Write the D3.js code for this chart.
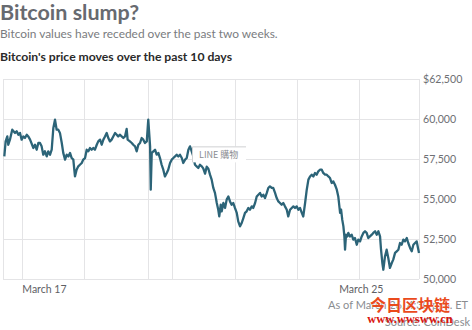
<!DOCTYPE html>
<html>
<head>
<meta charset="utf-8">
<script src="https://cdn.jsdelivr.net/npm/d3@7"></script>
<style>
  html, body { margin: 0; padding: 0; background: #fff; }
  svg { display: block; }
</style>
</head>
<body>
<svg id="chart" width="472" height="330"></svg>
<script>
// ---- DATA ----
const title = "Bitcoin slump?";
const subtitle = "Bitcoin values have receded over the past two weeks.";
const chartTitle = "Bitcoin's price moves over the past 10 days";
const startTime = new Date(2021, 2, 16, 12, 0);   // March 16, noon ET
const endTime = new Date(2021, 2, 27, 0, 0);
// hours since startTime
const hours = [
  0.8,1.6,2.6,3.2,4.2,5.6,7.3,8.3,9.3,10.3,11.3,12.3,13.3,14.4,15.3,16.4,18.4,19.4,20.4,21.4,
  22.4,23.4,24.4,25.4,26.5,27.4,28.5,29.5,30.5,31.5,32.5,33.5,34.5,35.6,36.5,37.6,38.6,39.6,40.6,41.6,
  42.6,43.6,44.6,45.6,46.6,47.7,48.6,49.7,50.7,51.7,52.7,53.7,54.7,55.7,56.8,57.7,58.8,59.8,60.8,61.8,
  62.8,63.8,64.8,65.8,66.8,67.9,68.9,69.8,70.9,71.9,72.9,73.9,74.9,75.5,76.9,78.0,78.9,80.0,81.0,82.0,
  83.0,84.0,85.0,86.0,87.1,88.0,89.1,89.5,90.1,91.1,92.1,93.1,94.1,95.1,96.1,97.1,98.1,99.2,100.1,101.2,
  102.2,103.2,104.2,105.2,106.2,107.2,108.3,109.2,110.3,111.3,112.3,113.3,114.3,115.3,116.3,117.3,118.3,119.3,120.4,121.3,
  122.4,123.4,124.4,125.4,126.4,127.4,128.4,129.5,130.4,131.0,131.9,132.5,133.5,134.5,135.5,136.5,137.5,138.5,139.5,140.5,
  141.6,142.5,143.6,144.6,145.6,146.6,147.6,148.6,149.6,150.7,151.6,152.7,153.7,154.7,155.7,156.7,157.7,158.7,159.8,160.7,
  161.7,162.8,163.7,164.8,165.8,166.8,167.8,168.8,169.8,170.8,171.9,172.8,173.9,174.9,175.9,176.9,177.9,178.9,179.9,181.0,
  181.9,183.0,184.0,185.0,186.0,187.0,188.0,189.0,190.0,191.0,192.0,193.1,194.0,195.1,196.1,197.1,198.1,199.1,200.1,201.1,
  202.2,203.1,204.2,204.8,205.5,206.2,206.8,207.2,207.8,208.6,209.2,210.2,211.2,212.2,213.2,214.3,215.2,216.3,217.3,218.3,
  219.3,220.3,221.3,222.3,223.4,224.3,225.4,226.4,227.4,228.4,229.0,229.8,230.4,231.4,232.4,233.4,234.4,235.5,236.4,237.5,
  238.5,239.5,240.5,241.5,242.5,243.5,244.6,245.5,246.6,247.6,248.6,249.6,250.6,251.6,252.0
];
// price in USD
const prices = [
  57660,58600,58910,58390,58710,59330,59130,59230,59020,59130,58710,58910,58810,59020,58910,58710,58190,58390,58080,58500,
  58500,58290,57770,57980,57660,57980,57770,58080,59440,59960,59330,59330,59130,58500,57880,57460,57770,57660,57880,57560,
  57460,56410,56830,57040,57140,57250,57460,57560,58080,57980,58190,58080,58190,58080,58390,58600,58710,58390,58710,58910,
  59130,58810,58600,58710,58910,59130,59020,58910,59020,58910,58810,58910,59380,58710,58600,58500,58390,58290,57980,58390,
  58500,58810,58710,58500,58600,59960,58290,55580,57880,57980,58080,57770,57880,57560,57140,56830,56410,56630,56830,57250,
  57460,57560,57660,57770,57660,57770,57560,57250,57460,57560,58080,58290,57980,57660,57140,57040,56940,57140,57040,56910,
  56580,57020,56890,56520,56210,55690,55380,54750,54330,53910,54640,54230,54750,54440,54960,55160,54850,54640,54750,54440,
  54130,53600,53290,53500,53810,54130,54230,54440,54330,54540,54440,54750,55160,55270,55380,55160,55270,55060,55380,55690,
  55790,55690,55690,55380,55060,54850,54750,54640,54750,54540,54330,53910,54330,54440,54540,54440,54540,54330,54440,54130,
  53910,54750,55580,56210,56410,56520,56410,56630,56520,56730,56830,56830,56630,56520,56520,56410,56310,56000,56100,55890,
  55580,55160,54130,54330,53710,53290,52660,51830,52770,52660,52880,52660,52770,52460,52560,52140,52460,52350,52660,52880,
  52980,52880,52560,52660,52770,52880,52980,52770,52980,52660,51830,51000,50580,51410,51830,51310,50690,51000,51210,51630,
  51730,51830,52250,52140,52460,52350,52560,52250,51940,51730,52140,52250,52350,51830,51630
];
const yTicks = [50000, 52500, 55000, 57500, 60000, 62500];
// vertical gridline positions, hours since startTime
const gridHours = [11.5, 49.1, 87.8, 102.4, 140.5, 178.1, 215.7];
const xTickDates = [new Date(2021, 2, 17, 0, 0), new Date(2021, 2, 25, 0, 0)];
const xTickLabels = ["March 17", "March 25"];
const asOfText = "As of March 26, 4:30 p.m. ET";
const sourceText = "Source: CoinDesk";
const popupText = "LINE 購物";
const watermark1 = "今日区块链";
const watermark2 = "www.wwsww.cn";

// ---- LAYOUT ----
const svg = d3.select("#chart");
const plot = { left: 3, right: 419, top: 79, bottom: 279 };
const hourMs = 3600 * 1000;
const toDate = h => new Date(startTime.getTime() + h * hourMs);

const x = d3.scaleTime().domain([startTime, endTime]).range([plot.left, plot.right]);
const y = d3.scaleLinear().domain([50000, 62500]).range([plot.bottom, plot.top]);

const font = "Lato, 'Open Sans', sans-serif";

// titles
svg.append("text").attr("x", 0).attr("y", 19.5)
  .attr("font-family", font).attr("font-weight", 700).attr("font-size", 21.5)
  .attr("fill", "#676a70").text(title);
svg.append("text").attr("x", 0).attr("y", 37.5)
  .attr("font-family", font).attr("font-size", 11.9)
  .attr("fill", "#7a7c80").text(subtitle);
svg.append("text").attr("x", 0).attr("y", 60.5)
  .attr("font-family", font).attr("font-weight", 700).attr("font-size", 12.2)
  .attr("fill", "#2a2a2a").text(chartTitle);

// grid
const grid = svg.append("g").attr("stroke", "#e4e4e6").attr("stroke-width", 1).attr("fill", "none");
grid.selectAll("line.h").data(yTicks).join("line")
  .attr("x1", plot.left).attr("x2", plot.right)
  .attr("y1", d => Math.round(y(d)) + 0.5).attr("y2", d => Math.round(y(d)) + 0.5);
grid.selectAll("line.v").data(gridHours.map(toDate).concat([startTime, endTime])).join("line")
  .attr("y1", plot.top).attr("y2", plot.bottom)
  .attr("x1", d => Math.round(x(d)) + 0.5).attr("x2", d => Math.round(x(d)) + 0.5);

// y axis labels (right side)
const yAxis = d3.axisRight(y).tickValues(yTicks).tickSize(0).tickPadding(0)
  .tickFormat((d, i) => (d === 62500 ? "$" : "") + d3.format(",")(d));
const gy = svg.append("g").attr("transform", `translate(${plot.right + 4},0)`).call(yAxis);
gy.select(".domain").remove();
gy.selectAll("text").attr("font-family", font).attr("font-size", 10.6).attr("fill", "#6e7074");

// x axis labels
const xAxis = d3.axisBottom(x).tickValues(xTickDates).tickSize(0).tickPadding(0)
  .tickFormat((d, i) => xTickLabels[i]);
const gx = svg.append("g").attr("transform", `translate(0,${plot.bottom + 6.5})`).call(xAxis);
gx.select(".domain").remove();
gx.selectAll("text").attr("font-family", font).attr("font-size", 10.5).attr("fill", "#5e6064")
  .attr("text-anchor", "start").attr("dy", "0.71em").attr("dx", -1);

// price line
const data = hours.map((h, i) => ({ t: toDate(h), v: prices[i] }));
const line = d3.line().x(d => x(d.t)).y(d => y(d.v));
svg.append("path").datum(data)
  .attr("d", line).attr("fill", "none")
  .attr("stroke", "#2c6478").attr("stroke-width", 2.3).attr("stroke-linejoin", "round");

// popup box
const pop = svg.append("g").attr("transform", `translate(${x(toDate(114.5))},${y(58290)})`);
pop.append("rect").attr("x", 0).attr("y", 0).attr("width", 54).attr("height", 16).attr("fill", "#fff");
pop.append("path").attr("d", "M0.5,16 V0.5 H54").attr("stroke", "#cfd0d2").attr("fill", "none");
pop.append("text").attr("x", 7).attr("y", 12).attr("font-family", "'Noto Sans CJK TC', " + font)
  .attr("font-size", 9).attr("fill", "#8a8c90").text(popupText);

// footnotes
svg.append("text").attr("x", 468).attr("y", 309).attr("text-anchor", "end")
  .attr("font-family", font).attr("font-size", 11).attr("fill", "#8a8c90").text(asOfText);
svg.append("text").attr("x", 470).attr("y", 326).attr("text-anchor", "end")
  .attr("font-family", font).attr("font-size", 11).attr("fill", "#8a8c90").text(sourceText);

// watermark
svg.append("text").attr("x", 410).attr("y", 311).attr("text-anchor", "middle")
  .attr("font-family", "'Noto Sans CJK SC', sans-serif").attr("font-weight", 700).attr("font-size", 16)
  .attr("fill", "#ea4a1c").attr("stroke", "#fff").attr("stroke-width", 0.6).attr("paint-order", "stroke")
  .text(watermark1);
svg.append("text").attr("x", 410).attr("y", 323).attr("text-anchor", "middle")
  .attr("font-family", "'Liberation Serif', serif").attr("font-weight", 700).attr("font-size", 12.5)
  .attr("fill", "#d9140f").text(watermark2);
</script>
</body>
</html>
